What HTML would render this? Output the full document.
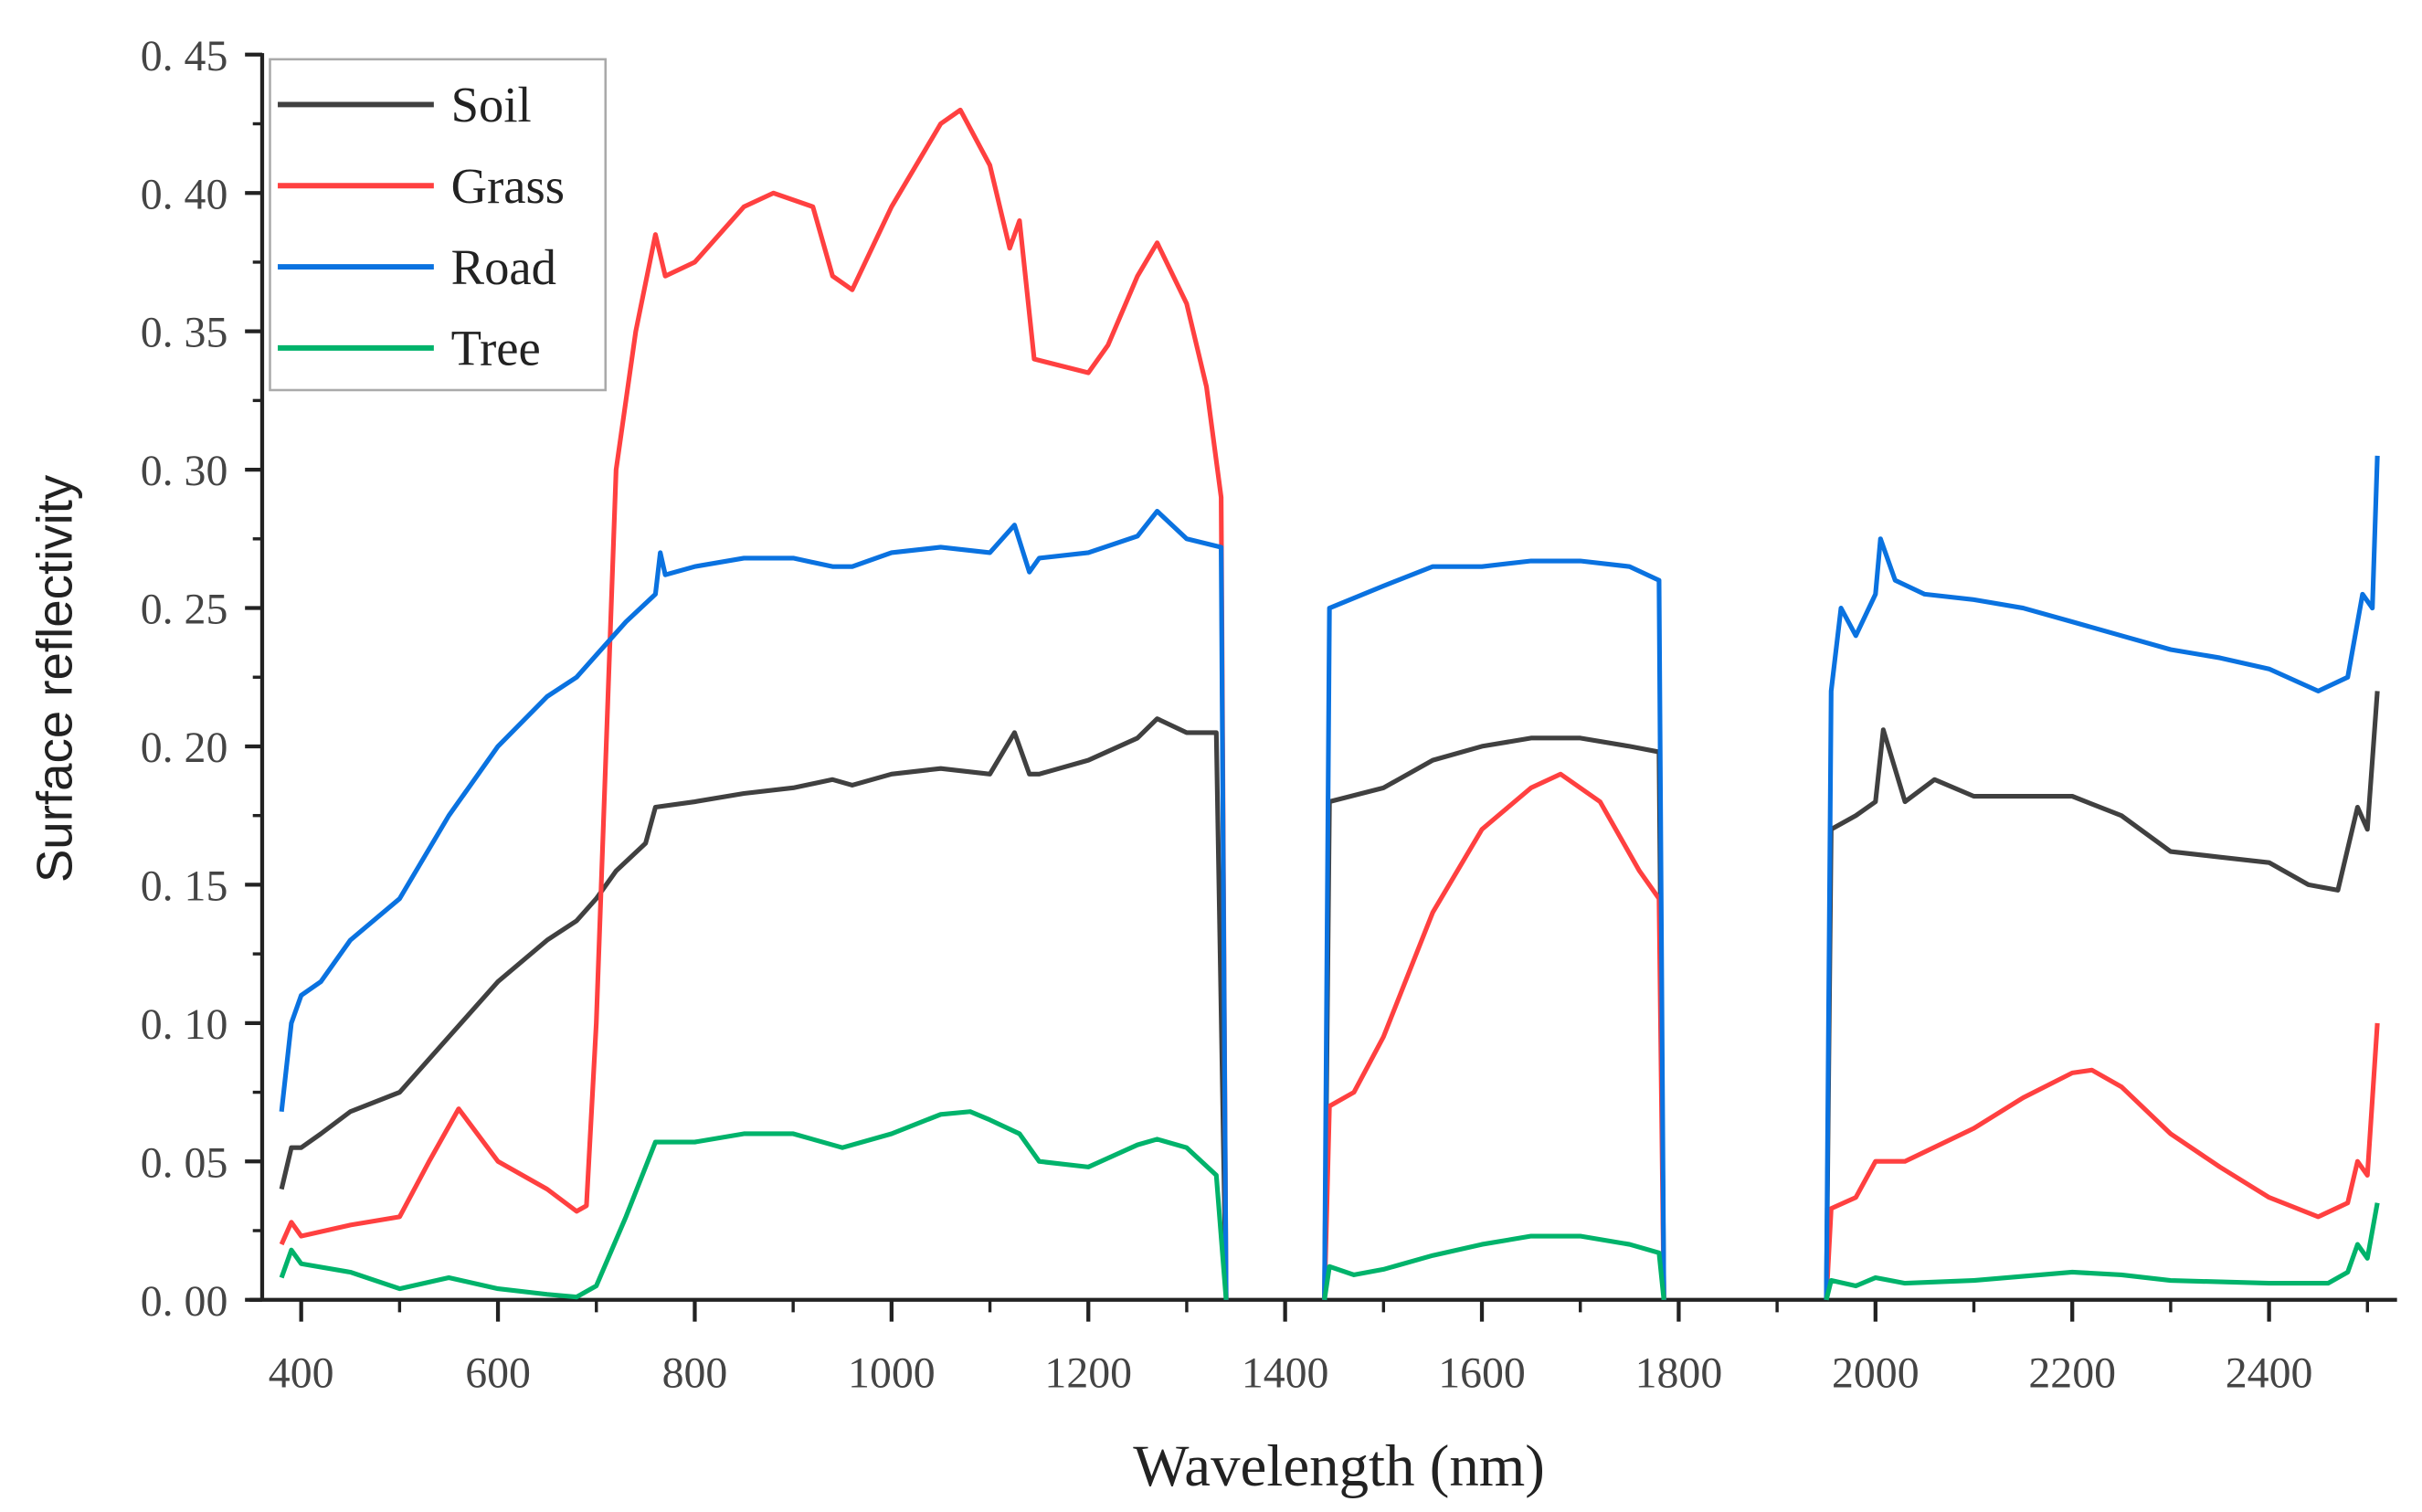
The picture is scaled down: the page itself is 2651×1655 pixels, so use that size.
<!DOCTYPE html>
<html><head><meta charset="utf-8"><style>
html,body{margin:0;padding:0;background:#fff;}
svg{display:block;}
.tk{font-family:"Liberation Serif","DejaVu Serif",serif;font-size:28px;fill:#444;}
</style></head><body>
<svg id="chart" width="2651" height="1655" viewBox="0 0 1552 969" preserveAspectRatio="none" xmlns="http://www.w3.org/2000/svg">
<rect x="0" y="0" width="1552" height="969" fill="#fff"/>
<g id="axes"></g>
<g id="series"></g>
<g id="legend">
<rect x="173" y="38" width="215" height="212" fill="#fff" stroke="#aaa" stroke-width="1.5"/>
</g>
<text x="0" y="0" transform="translate(46,435) rotate(-90)" text-anchor="middle" font-family="Liberation Sans, sans-serif" font-size="32" fill="#222">Surface reflectivity</text>
<text x="858" y="952" text-anchor="middle" font-family="Liberation Serif, serif" font-size="38" fill="#222">Wavelength (nm)</text>
</svg>
<script>
const soilX=[380,390,400,420,450,500,550,600,650,680,700,720,750,760,800,850,900,940,960,1000,1050,1100,1125,1140,1150,1200,1250,1270,1300,1330,1340,1440,1445,1500,1550,1600,1650,1700,1750,1780,1785,1950,1955,1980,2000,2008,2030,2060,2100,2200,2250,2300,2350,2400,2440,2470,2490,2500,2510];
const soilY=[0.04,0.055,0.055,0.06,0.068,0.075,0.095,0.115,0.13,0.137,0.145,0.155,0.165,0.178,0.18,0.183,0.185,0.188,0.186,0.19,0.192,0.19,0.205,0.19,0.19,0.195,0.203,0.21,0.205,0.205,0,0,0.18,0.185,0.195,0.2,0.203,0.203,0.2,0.198,0,0,0.17,0.175,0.18,0.206,0.18,0.188,0.182,0.182,0.175,0.162,0.16,0.158,0.15,0.148,0.178,0.17,0.22];
const grassX=[380,390,400,450,500,530,560,600,650,680,690,700,720,740,760,770,800,850,880,920,940,960,1000,1050,1070,1100,1120,1130,1145,1200,1220,1250,1270,1300,1320,1335,1340,1440,1445,1470,1500,1550,1600,1650,1680,1720,1760,1780,1785,1950,1955,1980,2000,2030,2100,2150,2200,2220,2250,2300,2350,2400,2450,2480,2490,2500,2510];
const grassY=[0.02,0.028,0.023,0.027,0.03,0.05,0.069,0.05,0.04,0.032,0.034,0.1,0.3,0.35,0.385,0.37,0.375,0.395,0.4,0.395,0.37,0.365,0.395,0.425,0.43,0.41,0.38,0.39,0.34,0.335,0.345,0.37,0.382,0.36,0.33,0.29,0,0,0.07,0.075,0.095,0.14,0.17,0.185,0.19,0.18,0.155,0.145,0,0,0.033,0.037,0.05,0.05,0.062,0.073,0.082,0.083,0.077,0.06,0.048,0.037,0.03,0.035,0.05,0.045,0.1];
const roadX=[380,390,400,420,450,500,550,600,650,680,700,730,760,765,770,800,850,900,940,960,1000,1050,1100,1125,1140,1150,1200,1250,1270,1300,1335,1340,1440,1445,1500,1550,1600,1650,1700,1750,1780,1785,1950,1955,1965,1980,2000,2005,2020,2050,2100,2150,2200,2250,2300,2350,2400,2450,2480,2495,2505,2510];
const roadY=[0.068,0.1,0.11,0.115,0.13,0.145,0.175,0.2,0.218,0.225,0.233,0.245,0.255,0.27,0.262,0.265,0.268,0.268,0.265,0.265,0.27,0.272,0.27,0.28,0.263,0.268,0.27,0.276,0.285,0.275,0.272,0,0,0.25,0.258,0.265,0.265,0.267,0.267,0.265,0.26,0,0,0.22,0.25,0.24,0.255,0.275,0.26,0.255,0.253,0.25,0.245,0.24,0.235,0.232,0.228,0.22,0.225,0.255,0.25,0.305];
const treeX=[380,390,400,450,500,550,600,650,680,700,730,760,800,850,900,950,1000,1050,1080,1100,1130,1150,1200,1250,1270,1300,1330,1340,1440,1445,1470,1500,1550,1600,1650,1700,1750,1780,1785,1950,1955,1980,2000,2030,2100,2200,2250,2300,2400,2460,2480,2490,2500,2510];
const treeY=[0.008,0.018,0.013,0.01,0.004,0.008,0.004,0.002,0.001,0.005,0.03,0.057,0.057,0.06,0.06,0.055,0.06,0.067,0.068,0.065,0.06,0.05,0.048,0.056,0.058,0.055,0.045,0,0,0.012,0.009,0.011,0.016,0.02,0.023,0.023,0.02,0.017,0,0,0.007,0.005,0.008,0.006,0.007,0.01,0.009,0.007,0.006,0.006,0.01,0.02,0.015,0.035];
const xTickLabels=[400,600,800,1000,1200,1400,1600,1800,2000,2200,2400];
const yTickLabels=["0. 00","0. 05","0. 10","0. 15","0. 20","0. 25","0. 30","0. 35","0. 40","0. 45"];
const seriesNames=["Soil","Grass","Road","Tree"];

const NS="http://www.w3.org/2000/svg";
function xs(w){return 193+(w-400)*0.6305;}
function ys(v){return 833-v/0.45*798;}
function mk(tag,attrs,parent){const e=document.createElementNS(NS,tag);for(const k in attrs)e.setAttribute(k,attrs[k]);parent.appendChild(e);return e;}
const axes=document.getElementById('axes');
const ser=document.getElementById('series');
const leg=document.getElementById('legend');
let a=mk('line',{x1:168,y1:ys(0.45)-1,x2:168,y2:833,stroke:'#222','stroke-width':2.5},axes);


a=mk('line',{x1:160,y1:833,x2:1536,y2:833,stroke:'#222','stroke-width':2.5},axes);


yTickLabels.forEach((lab,i)=>{const v=i*0.05;const y=ys(v);
 const t=mk('line',{x1:157,y1:y,x2:168,y2:y,stroke:'#222','stroke-width':2.5},axes);
 
 
 if(i<9){const m=mk('line',{x1:162,y1:ys(v+0.025),x2:168,y2:ys(v+0.025),stroke:'#222','stroke-width':2},axes);
 
 }
 const tx=mk('text',{x:146,y:y+10,'text-anchor':'end',class:'tk'},axes);tx.textContent=lab;
 
 
});
xTickLabels.forEach(w=>{const x=xs(w);
 const t=mk('line',{x1:x,y1:833,x2:x,y2:847,stroke:'#222','stroke-width':2.5},axes);
 
 
 const m=mk('line',{x1:xs(w+100),y1:833,x2:xs(w+100),y2:841,stroke:'#222','stroke-width':2},axes);
 
 
 const tx=mk('text',{x:x,y:889,'text-anchor':'middle',class:'tk'},axes);tx.textContent=w;
 
 
});
const colors=['#404040','#ff4040','#0a72e0','#00b36b'];
const data=[[soilX,soilY],[grassX,grassY],[roadX,roadY],[treeX,treeY]];
[0,1,2,3].forEach(i=>{const [X,Y]=data[i];
 let d='';
 X.forEach((w,j)=>{const gap=j>0&&Y[j]===0&&Y[j-1]===0;
  d+=((j===0||gap)?'M':'L')+xs(w).toFixed(1)+' '+ys(Y[j]).toFixed(1)+' ';});
 const p=mk('path',{d:d,fill:'none',stroke:colors[i],'stroke-width':3,'stroke-linejoin':'round'},ser);
 
 
});
seriesNames.forEach((n,i)=>{const y=67+i*52;
 const l=mk('line',{x1:178,y1:y,x2:278,y2:y,stroke:colors[i],'stroke-width':3.5},leg);
 
 
 const t=mk('text',{x:289,y:y+11,'font-family':'Liberation Serif, serif','font-size':32,fill:'#222'},leg);t.textContent=n;
 
 
});
</script>
</body></html>
